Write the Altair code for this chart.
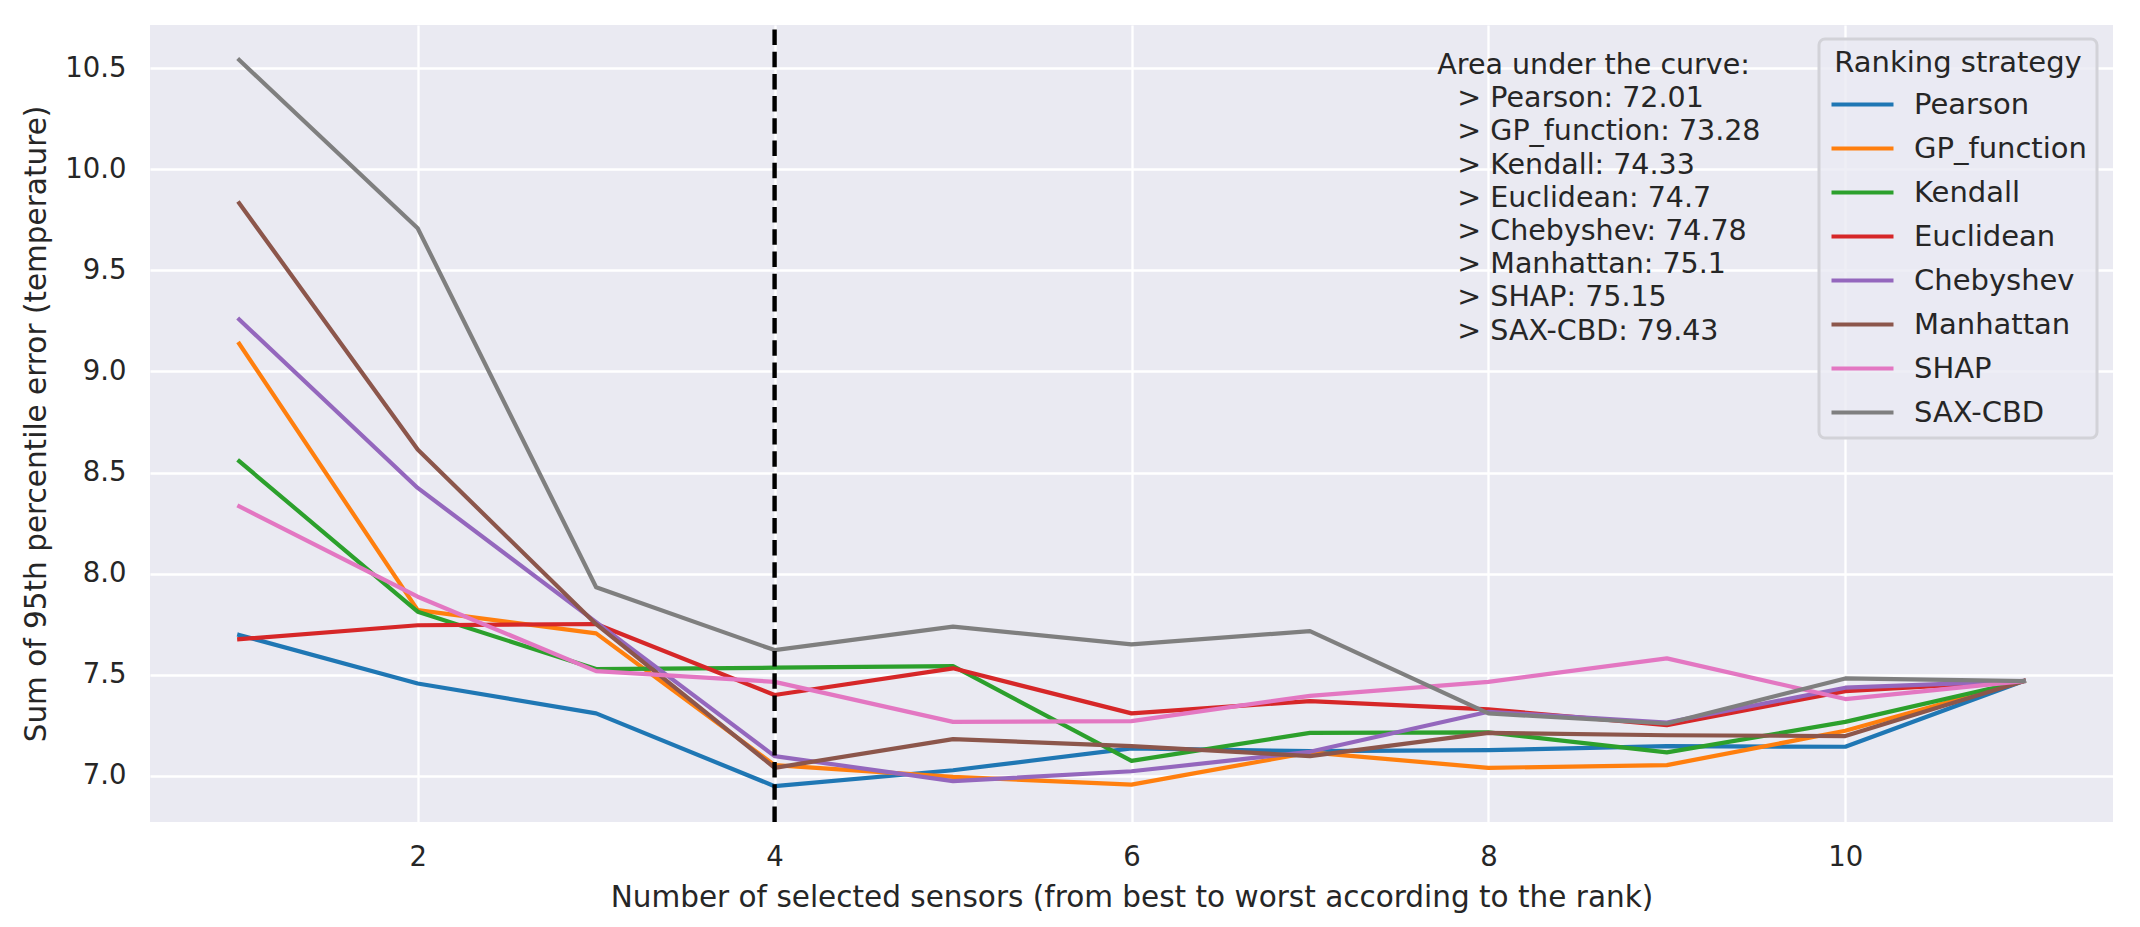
import altair as alt
import pandas as pd

# ---------------- data ----------------
sensors = list(range(1, 12))
strategies = ["Pearson", "GP_function", "Kendall", "Euclidean",
              "Chebyshev", "Manhattan", "SHAP", "SAX-CBD"]
colors = ["#1f77b4", "#ff7f0e", "#2ca02c", "#d62728",
          "#9467bd", "#8c564b", "#e377c2", "#7f7f7f"]

pearson = [7.697, 7.457, 7.309, 6.949, 7.028, 7.136, 7.122, 7.127, 7.147, 7.144, 7.469]
gp_function = [9.137, 7.820, 7.705, 7.053, 6.995, 6.957, 7.116, 7.040, 7.053, 7.223, 7.469]
kendall = [8.556, 7.812, 7.528, 7.535, 7.543, 7.074, 7.213, 7.215, 7.116, 7.267, 7.469]
euclidean = [7.676, 7.745, 7.751, 7.400, 7.532, 7.309, 7.370, 7.329, 7.251, 7.419, 7.469]
chebyshev = [9.257, 8.424, 7.760, 7.098, 6.974, 7.023, 7.119, 7.317, 7.264, 7.436, 7.469]
manhattan = [9.832, 8.614, 7.750, 7.040, 7.182, 7.147, 7.098, 7.213, 7.201, 7.197, 7.469]
shap = [8.333, 7.886, 7.518, 7.465, 7.267, 7.271, 7.396, 7.465, 7.581, 7.380, 7.469]
sax_cbd = [10.540, 9.708, 7.933, 7.622, 7.738, 7.650, 7.716, 7.309, 7.259, 7.482, 7.469]

auc_values = [72.01, 73.28, 74.33, 74.7, 74.78, 75.1, 75.15, 79.43]
best_k = 4

x_ticks = [2, 4, 6, 8, 10]
y_ticks = [7.0, 7.5, 8.0, 8.5, 9.0, 9.5, 10.0, 10.5]
x_domain = [0.5, 11.5]
y_domain = [6.772, 10.713]

series = [pearson, gp_function, kendall, euclidean, chebyshev, manhattan, shap, sax_cbd]
rows = []
for name, vals in zip(strategies, series):
    for k, v in zip(sensors, vals):
        rows.append({"k": k, "value": v, "strategy": name})
df = pd.DataFrame(rows)

FONT = "DejaVu Sans"
TXT = "#262626"

x_enc = alt.X("k:Q", scale=alt.Scale(domain=x_domain, nice=False, zero=False),
              axis=alt.Axis(values=x_ticks, format="d",
                            title="Number of selected sensors (from best to worst according to the rank)",
                            titleY=84, titleBaseline="alphabetic",
                            labelPadding=21))
y_enc = alt.Y("value:Q", scale=alt.Scale(domain=y_domain, nice=False, zero=False),
              axis=alt.Axis(values=y_ticks, format=".1f",
                            title="Sum of 95th percentile error (temperature)",
                            titleX=-105, titleY=398.5, titleAngle=270,
                            titleBaseline="alphabetic", titleAlign="center",
                            labelPadding=24))

lines = alt.Chart(df).mark_line(strokeWidth=4.2, strokeJoin="round", strokeCap="square").encode(
    x=x_enc,
    y=y_enc,
    color=alt.Color("strategy:N",
                    scale=alt.Scale(domain=strategies, range=colors),
                    sort=strategies,
                    legend=alt.Legend(
                        title="Ranking strategy",
                        orient="none", legendX=1669, legendY=14,
                        symbolType="stroke", symbolSize=3844, symbolStrokeWidth=4.2,
                        clipHeight=29, rowPadding=14, labelOffset=18,
                        padding=10, titlePadding=12,
                        titleAnchor="middle", titleAlign="center",
                        titleFontSize=29, titleFontWeight="normal", titleFont=FONT,
                        titleColor=TXT, labelFontSize=29, labelFont=FONT, labelColor=TXT,
                        labelLimit=600, titleLimit=600,
                        fillColor="rgba(234,234,242,0.8)", strokeColor="#d2d2d8",
                        cornerRadius=6)),
    order=alt.Order("k:Q"),
)

vline_df = pd.DataFrame({"k": [best_k], "y0": [y_domain[0]], "y1": [y_domain[1]]})
vline = alt.Chart(vline_df).mark_rule(color="black", strokeWidth=4.4,
                                      strokeDash=[15.5, 6.7]).encode(
    x="k:Q", y="y0:Q", y2="y1:Q")

header_df = pd.DataFrame({"k": [7.714], "value": [10.47], "t": ["Area under the curve:"]})
body_df = pd.DataFrame({"k": [7.826], "value": [10.306],
                        "t": ["\n".join(f"> {s}: {v}" for s, v in zip(strategies, auc_values))]})

header = alt.Chart(header_df).mark_text(align="left", baseline="alphabetic", font=FONT,
                                        fontSize=28.5, color=TXT).encode(
    x="k:Q", y="value:Q", text="t:N")
body = alt.Chart(body_df).mark_text(align="left", baseline="alphabetic", font=FONT,
                                    fontSize=28.5, color=TXT, lineBreak="\n",
                                    lineHeight=33.2).encode(
    x="k:Q", y="value:Q", text="t:N")

chart = alt.layer(lines, vline, header, body).properties(
    width=1963, height=797,
    autosize=alt.AutoSizeParams(type="none"),
    padding={"left": 142, "top": 17, "right": 19, "bottom": 97},
    background="white",
).configure_view(
    fill="#EAEAF2", stroke=None
).configure_axis(
    grid=True, gridColor="white", gridWidth=2.3, gridOpacity=1,
    domain=False, ticks=False, tickSize=0,
    labelFont=FONT, labelFontSize=27.5, labelColor=TXT,
    titleFont=FONT, titleFontSize=29.5, titleFontWeight="normal", titleColor=TXT,
).configure_legend(
    strokeWidth=3
)

chart.save("out.html", embed_options={"renderer": "svg", "actions": False})
